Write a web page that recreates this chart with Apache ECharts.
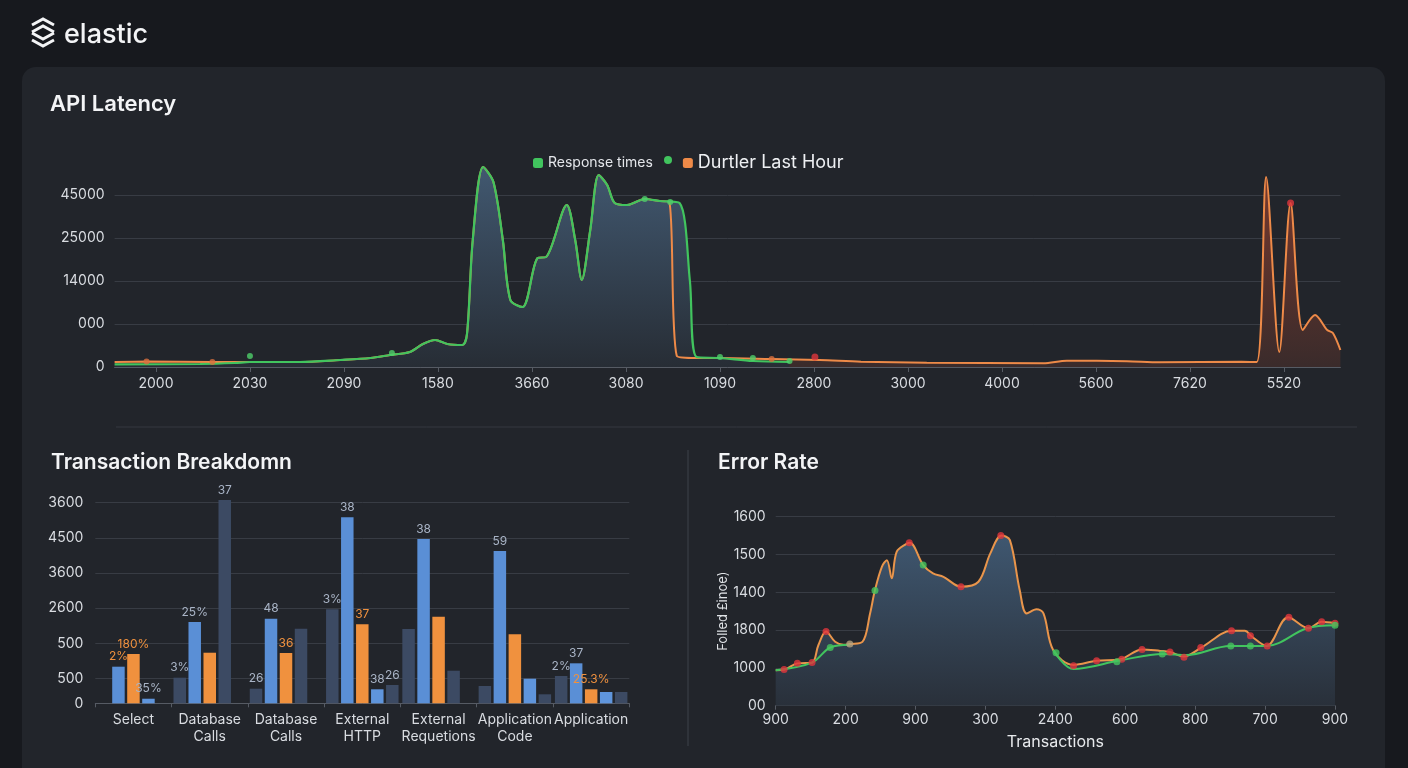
<!DOCTYPE html>
<html><head><meta charset="utf-8">
<script src="https://cdn.jsdelivr.net/npm/echarts@6/dist/echarts.min.js"></script>
<style>html,body{margin:0;padding:0;background:#17191e;}#c{width:1408px;height:768px;}</style>
</head><body><div id="c"></div>
<script>
// ===== API Latency (top) =====
const latencyTickValues = [0, 10, 20, 30, 40, 50, 60, 70, 80, 90, 100, 110, 120];
const latencyTickLabels = ['2000', '2030', '2090', '1580', '3660', '3080', '1090', '2800', '3000', '4000', '5600', '7620', '5520'];
const latencyYTickValues = [0, 10000, 20000, 30000, 40000];
const latencyYTickLabels = ['0', '000', '14000', '25000', '45000'];

const responseX = [-4.4, 4.7, 8.4, 10, 15.3, 19.6, 22.8, 24.9, 27, 28.4, 29.7, 31, 32.6, 33.1, 33.7, 34.8, 35.9, 36.9, 37.7, 39, 40.6, 41.5, 43.7, 44.6, 45.3, 46.2, 47.1, 48, 48.8, 50.1, 52, 53.6, 55.7, 56.8, 57.5, 60, 63.5, 67.4];
const responseY = [600, 700, 930, 1160, 1160, 1630, 2090, 2790, 3490, 5350, 6280, 5350, 5120, 7910, 29530, 46510, 43020, 29530, 15580, 13950, 25350, 25580, 37670, 29530, 20230, 31860, 44650, 42330, 38140, 37670, 39070, 38600, 38140, 20000, 2330, 2090, 1400, 1160];

const durationX = [-4.4, -1, 6, 8.4, 10, 15.3, 19.6, 22.8, 24.9, 27, 28.4, 29.7, 31, 32.6, 33.1, 33.7, 34.8, 35.9, 36.9, 37.7, 39, 40.6, 41.5, 43.7, 44.6, 45.3, 46.2, 47.1, 48, 48.8, 50.1, 52, 53.6, 54.6, 55.4, 57, 60, 65.5, 70.6, 75, 82, 94.4, 96.9, 103.3, 106.8, 115.5, 117.1, 118.1, 119.5, 120.7, 122, 123.3, 124.6, 125.2, 126];
const durationY = [1160, 1280, 1160, 1160, 1160, 1160, 1630, 2090, 2790, 3490, 5350, 6280, 5350, 5120, 7910, 29530, 46510, 43020, 29530, 15580, 13950, 25350, 25580, 37670, 29530, 20230, 31860, 44650, 42330, 38140, 37670, 39070, 38600, 38400, 2600, 2090, 2090, 1860, 1630, 1230, 1000, 860, 1470, 1330, 1090, 1230, 1160, 44190, 3490, 38140, 8600, 12090, 8600, 7910, 3950];

const latOrangeDotX = [-1, 6, 65.5];
const latOrangeDotY = [1280, 1160, 1860];
const latGreenDotX = [10, 25.1, 52, 54.7, 60, 63.5, 67.4];
const latGreenDotY = [2560, 3260, 39070, 38370, 2330, 2090, 1400];
const latRedDotX = [70.1, 120.7];
const latRedDotY = [2330, 38140];

// ===== Transaction Breakdown (bottom-left) =====
const barCategories = ['Select', 'Database\nCalls', 'Database\nCalls', 'External\nHTTP', 'External\nRequetions', 'Application\nCode', 'Application'];
const barTickValues = [0, 700, 1700, 2700, 3700, 4700, 5700];
const barTickLabels = ['0', '500', '500', '2600', '3600', '4500', '3600'];
const barSlotA = [null, 727, 415, 2670, 2111, 491, 776];
const barSlotB = [1040, 2310, 2403, 5284, 4668, 4327, 1136];
const barSlotC = [1400, 1437, 1429, 2244, 2460, 1960, 398];
const barSlotD = [130, 5775, 2119, 398, 926, 699, 321];
const barSlotE = [null, null, null, 520, null, 256, 321];
const barLabelA = [null, '3%', '26', '3%', null, null, '2%'];
const barLabelB = ['2%', '25%', '48', '38', '38', '59', '37'];
const barLabelC = ['180%', null, '36', '37', null, null, '25.3%'];
const barLabelD = ['35%', '37', null, '38', null, null, null];
const barLabelE = [null, null, null, '26', null, null, null];

// ===== Error Rate (bottom-right) =====
const errXLabels = ['900', '200', '900', '300', '2400', '600', '800', '700', '900'];
const errYLabels = ['00', '1000', '1800', '1400', '1500', '1600'];
const errX = [0, 0.13, 0.31, 0.52, 0.61, 0.72, 0.85, 0.97, 1.06, 1.24, 1.35, 1.42, 1.52, 1.59, 1.66, 1.73, 1.87, 1.92, 2.11, 2.25, 2.40, 2.65, 2.90, 3.07, 3.23, 3.35, 3.49, 3.59, 3.73, 3.83, 3.97, 4.26, 4.59, 4.93, 5.24, 5.50, 5.64, 5.83, 6.09, 6.52, 6.71, 6.81, 7.02, 7.33, 7.62, 7.81, 8];
const errY = [94, 96, 112, 114, 160, 196, 169, 161, 163, 169, 244, 306, 368, 385, 337, 407, 428, 431, 372, 350, 341, 315, 328, 403, 450, 438, 306, 244, 255, 244, 147, 108, 119, 123, 149, 145, 142, 130, 154, 198, 198, 183, 158, 234, 205, 222, 218];
const errGreenX = [0, 0.52, 0.78, 1.06, 2.5, 3.97, 4.26, 4.93, 5.54, 5.88, 6.5, 6.76, 7.02, 7.6, 8];
const errGreenY = [94, 114, 154, 161, null, 147, 97, 120, 137, 134, 158, 158, 158, 205, 213];
const errRedDotX = [0.12, 0.31, 0.52, 0.72, 1.91, 2.65, 3.22, 4.26, 4.59, 4.95, 5.24, 5.64, 5.84, 6.08, 6.52, 6.79, 7.03, 7.34, 7.62, 7.81, 8];
const errRedDotY = [96, 112, 114, 196, 431, 315, 450, 106, 119, 123, 149, 142, 128, 154, 198, 185, 158, 234, 205, 222, 218];
const errGreenDotX = [0.78, 1.42, 2.11, 4.01, 4.88, 5.53, 6.51, 6.79, 8];
const errGreenDotY = [154, 305, 372, 140, 116, 137, 158, 158, 213];
const errTanDotX = [1.06];
const errTanDotY = [163];

// ===== styling =====
const FONT = 'Inter, "Noto Sans", "DejaVu Sans", sans-serif';
const C = {
  green: '#41c45e', orange: '#ee8a48', red: '#e0363c', tan: '#b7a37f',
  grid: '#383c44', axis: '#565b64', label: '#d9dce1',
  barDark: '#3c4a63', barBlue: '#5a8fd6', barBlue2: '#5f95dc', barOrange: '#f0913e', barLabel: '#a9b4c6'
};
const slotDDark = [1, 2, 4];           // categories where slot D is drawn dark
const orangeLabelItems = { B: [0] };   // labels drawn in orange

const pairs = (xs, ys) => xs.map((x, i) => [x, ys[i] == null ? '-' : ys[i]]);
const lg = (a, b) => new echarts.graphic.LinearGradient(0, 0, 0, 1, [{ offset: 0, color: a }, { offset: 1, color: b }]);

function barSeries(name, vals, labels, color, key) {
  return {
    name, type: 'bar', xAxisIndex: 1, yAxisIndex: 1, barWidth: 12.5, barGap: '20%',
    itemStyle: { color },
    data: vals.map((v, i) => {
      if (v == null) return '-';
      const item = { value: v };
      const isOrange = (key === 'C') || (orangeLabelItems[key] || []).includes(i);
      item.label = {
        show: labels[i] != null, formatter: labels[i] || '', position: 'top', distance: 4,
        color: isOrange ? C.barOrange : C.barLabel, fontSize: 12, fontFamily: FONT
      };
      if (key === 'D' && slotDDark.includes(i)) item.itemStyle = { color: C.barDark };
      return item;
    })
  };
}

const axisLabelStyle = { color: C.label, fontSize: 14, fontFamily: FONT };

const option = {
  backgroundColor: '#17191e',
  animation: false,
  textStyle: { fontFamily: FONT },
  title: [
    { text: 'API Latency', left: 50, top: 93, padding: 0, textStyle: { color: '#f3f4f6', fontSize: 22, fontWeight: 600, fontFamily: FONT } },
    { text: 'Transaction Breakdomn', left: 51, top: 452, padding: 0, textStyle: { color: '#f3f4f6', fontSize: 21, fontWeight: 600, fontFamily: FONT } },
    { text: 'Error Rate', left: 718, top: 452, padding: 0, textStyle: { color: '#f3f4f6', fontSize: 21, fontWeight: 600, fontFamily: FONT } }
  ],
  legend: {
    left: 528, top: 149, itemWidth: 10, itemHeight: 10, itemGap: 30,
    data: [
      { name: 'Response times', icon: 'roundRect', itemStyle: { color: C.green }, textStyle: { color: '#e4e6ea', fontSize: 14 } },
      { name: 'Durtler Last Hour', icon: 'roundRect', itemStyle: { color: C.orange }, textStyle: { color: '#eef0f3', fontSize: 18 } }
    ],
    textStyle: { fontFamily: FONT }
  },
  graphic: [
    { type: 'rect', z: -100, silent: true, shape: { x: 22, y: 67, width: 1363, height: 740, r: 14 }, style: { fill: '#22252b' } },
    { type: 'line', z: -90, silent: true, shape: { x1: 116, y1: 427, x2: 1357, y2: 427 }, style: { stroke: '#353941', lineWidth: 1 } },
    { type: 'line', z: -90, silent: true, shape: { x1: 688, y1: 450, x2: 688, y2: 746 }, style: { stroke: '#353941', lineWidth: 1.5 } },
    { type: 'circle', silent: true, shape: { cx: 668, cy: 160, r: 4 }, style: { fill: C.green } },
    { type: 'text', silent: true, x: 64, y: 35, style: { text: 'elastic', fill: '#f3f4f6', font: '500 27px ' + FONT, textVerticalAlign: 'middle' } },
    { type: 'polyline', silent: true, shape: { points: [[32, 25], [43, 19], [54, 25]] }, style: { stroke: '#f3f4f6', lineWidth: 3, fill: null } },
    { type: 'polyline', silent: true, shape: { points: [[32, 32], [43, 26], [54, 32]] }, style: { stroke: '#f3f4f6', lineWidth: 3, fill: null } },
    { type: 'polyline', silent: true, shape: { points: [[32, 33], [43, 39], [54, 33]] }, style: { stroke: '#f3f4f6', lineWidth: 3, fill: null } },
    { type: 'polyline', silent: true, shape: { points: [[32, 40], [43, 46], [54, 40]] }, style: { stroke: '#f3f4f6', lineWidth: 3, fill: null } }
  ],
  grid: [
    { left: 114.6, top: 160.6, width: 1225.8, height: 206.4 },
    { left: 95.3, top: 492.1, width: 534, height: 211.2 },
    { left: 775.7, top: 516.7, width: 559.3, height: 189 }
  ],
  xAxis: [
    {
      gridIndex: 0, type: 'value', min: -4.4, max: 126,
      axisLine: { show: true, lineStyle: { color: C.axis } },
      axisTick: { show: true, customValues: latencyTickValues, length: 5, lineStyle: { color: C.axis } },
      axisLabel: Object.assign({ customValues: latencyTickValues, margin: 10, formatter: v => latencyTickLabels[latencyTickValues.indexOf(v)] || '' }, axisLabelStyle),
      splitLine: { show: false }
    },
    {
      gridIndex: 1, type: 'category', data: barCategories,
      axisLine: { show: true, lineStyle: { color: C.axis } },
      axisTick: { show: true, length: 4, lineStyle: { color: C.axis } },
      axisLabel: Object.assign({ margin: 8, lineHeight: 17, interval: 0 }, axisLabelStyle)
    },
    {
      gridIndex: 2, type: 'value', min: 0, max: 8, interval: 1,
      name: 'Transactions', nameLocation: 'middle', nameGap: 28,
      nameTextStyle: { color: '#e8eaed', fontSize: 16, fontFamily: FONT },
      axisLine: { show: true, lineStyle: { color: C.axis } },
      axisTick: { show: true, length: 4, lineStyle: { color: C.axis } },
      axisLabel: Object.assign({ margin: 7, formatter: v => errXLabels[v] || '' }, axisLabelStyle),
      splitLine: { show: false }
    }
  ],
  yAxis: [
    {
      gridIndex: 0, type: 'value', min: 0, max: 48000,
      axisLine: { show: false }, axisTick: { show: false, customValues: latencyYTickValues },
      axisLabel: Object.assign({ customValues: latencyYTickValues, margin: 10, formatter: v => { const i = latencyYTickValues.indexOf(v); return i < 0 ? '' : latencyYTickLabels[i]; } }, axisLabelStyle),
      splitLine: { show: true, lineStyle: { color: C.grid } }
    },
    {
      gridIndex: 1, type: 'value', min: 0, max: 6000,
      axisLine: { show: false }, axisTick: { show: false, customValues: barTickValues },
      axisLabel: Object.assign({ customValues: barTickValues, margin: 12, formatter: v => { const i = barTickValues.indexOf(v); return i < 0 ? '' : barTickLabels[i]; } }, axisLabelStyle),
      splitLine: { show: true, lineStyle: { color: C.grid } }
    },
    {
      gridIndex: 2, type: 'value', min: 0, max: 500, interval: 100,
      name: 'Folled £inoe)', nameLocation: 'middle', nameGap: 46, nameRotate: 90,
      nameTextStyle: { color: '#e0e3e7', fontSize: 13, fontFamily: FONT },
      axisLine: { show: false }, axisTick: { show: false },
      axisLabel: Object.assign({ margin: 10, formatter: v => errYLabels[v / 100] || '' }, axisLabelStyle),
      splitLine: { show: true, lineStyle: { color: C.grid } }
    }
  ],
  series: [
    // --- API latency ---
    { name: 'Durtler Last Hour', type: 'line', xAxisIndex: 0, yAxisIndex: 0, z: 2, smooth: 0.3, showSymbol: false, symbol: 'none',
      lineStyle: { width: 0, opacity: 0 }, areaStyle: { color: lg('#7a3a2e', '#3a2b2b'), opacity: 1 },
      data: pairs(durationX, durationY) },
    { name: 'Response times', type: 'line', xAxisIndex: 0, yAxisIndex: 0, z: 3, smooth: 0.3, showSymbol: false, symbol: 'none',
      lineStyle: { width: 0, opacity: 0 }, areaStyle: { color: lg('#415870', '#272d35'), opacity: 1 },
      data: pairs(responseX, responseY) },
    { name: 'Durtler Last Hour', type: 'line', xAxisIndex: 0, yAxisIndex: 0, z: 4, smooth: 0.3, showSymbol: false, symbol: 'none',
      lineStyle: { width: 2, color: C.orange }, itemStyle: { color: C.orange },
      data: pairs(durationX, durationY) },
    { name: 'Response times', type: 'line', xAxisIndex: 0, yAxisIndex: 0, z: 5, smooth: 0.3, showSymbol: false, symbol: 'none',
      lineStyle: { width: 2.2, color: C.green }, itemStyle: { color: C.green },
      data: pairs(responseX, responseY) },
    { name: 'lat-orange-dots', type: 'scatter', xAxisIndex: 0, yAxisIndex: 0, z: 6, symbolSize: 6, clip: false, itemStyle: { color: '#d8703f' }, data: pairs(latOrangeDotX, latOrangeDotY) },
    { name: 'lat-green-dots', type: 'scatter', xAxisIndex: 0, yAxisIndex: 0, z: 6, symbolSize: 6, clip: false, itemStyle: { color: '#4fd06a' }, data: pairs(latGreenDotX, latGreenDotY) },
    { name: 'lat-red-dots', type: 'scatter', xAxisIndex: 0, yAxisIndex: 0, z: 6, symbolSize: 7, clip: false, itemStyle: { color: C.red }, data: pairs(latRedDotX, latRedDotY) },
    // --- Transaction breakdown ---
    barSeries('Slot A', barSlotA, barLabelA, C.barDark, 'A'),
    barSeries('Slot B', barSlotB, barLabelB, C.barBlue, 'B'),
    barSeries('Slot C', barSlotC, barLabelC, C.barOrange, 'C'),
    barSeries('Slot D', barSlotD, barLabelD, C.barBlue2, 'D'),
    barSeries('Slot E', barSlotE, barLabelE, C.barDark, 'E'),
    // --- Error rate ---
    { name: 'Errors', type: 'line', xAxisIndex: 2, yAxisIndex: 2, z: 2, smooth: 0.35, showSymbol: false, symbol: 'none',
      lineStyle: { width: 2, color: '#e9954b' }, areaStyle: { color: lg('#3f5770', '#29303a'), opacity: 1 },
      data: pairs(errX, errY) },
    { name: 'Errors baseline', type: 'line', xAxisIndex: 2, yAxisIndex: 2, z: 3, smooth: 0.35, showSymbol: false, symbol: 'none', connectNulls: false,
      lineStyle: { width: 2, color: C.green }, data: pairs(errGreenX, errGreenY) },
    { name: 'err-red-dots', type: 'scatter', xAxisIndex: 2, yAxisIndex: 2, z: 4, symbolSize: 7, clip: false, itemStyle: { color: C.red }, data: pairs(errRedDotX, errRedDotY) },
    { name: 'err-green-dots', type: 'scatter', xAxisIndex: 2, yAxisIndex: 2, z: 4, symbolSize: 7, clip: false, itemStyle: { color: '#45c65e' }, data: pairs(errGreenDotX, errGreenDotY) },
    { name: 'err-tan-dots', type: 'scatter', xAxisIndex: 2, yAxisIndex: 2, z: 4, symbolSize: 7, clip: false, itemStyle: { color: C.tan }, data: pairs(errTanDotX, errTanDotY) }
  ]
};

const chart = echarts.init(document.getElementById('c'), null, { renderer: 'canvas' });
chart.setOption(option);
</script>
</body></html>
